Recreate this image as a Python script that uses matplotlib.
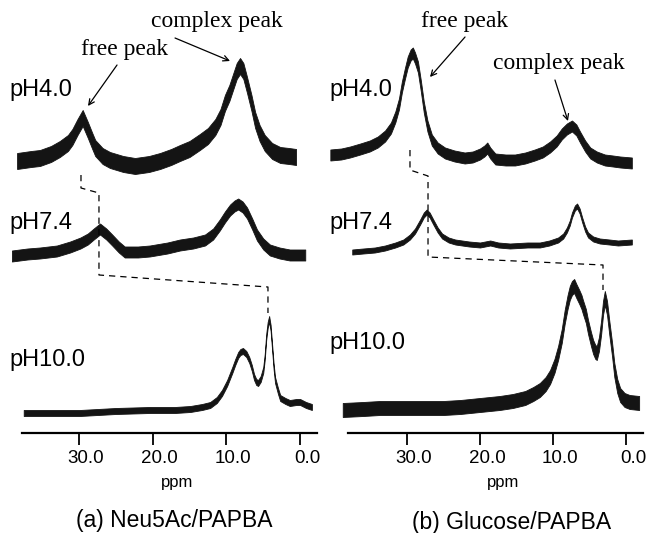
"""Stacked 11B NMR spectra of PAPBA with Neu5Ac / glucose at three pH values."""

import matplotlib
matplotlib.use("Agg")
import matplotlib.pyplot as plt
import matplotlib.transforms as mtransforms

plt.rcParams["font.family"] = ["Liberation Sans", "DejaVu Sans"]

W, H = 649, 533  # output size in pixels

# -------- Data (chemical shift in ppm, intensity in a.u. above each trace baseline)
neu_ph40_ppm = [38.4, 36.5, 35.3, 33.8, 32.6, 31.5, 30.9, 30.2, 29.5, 28.8, 28.2, 27.8,
                26.8, 25.8, 24.0, 22.4, 20.5, 19.0, 17.5, 16.3, 15.0, 13.6, 12.5, 11.5,
                10.8, 10.2, 9.6, 9.1, 8.6, 8.15, 7.7, 7.2, 6.6, 6.1, 5.5, 4.8, 3.8, 2.7,
                1.5, 0.55]
neu_ph40_int = [0, 2, 3, 7, 12, 18, 24, 34, 43, 31, 20, 13,
                5, 1, -3, -5, -3, 0, 4, 8, 12, 19, 25, 34,
                44, 58, 68, 79, 90, 95, 90, 76, 58, 41, 28, 18, 10, 6,
                5, 4]

neu_ph74_ppm = [39.1, 37.0, 35.3, 33.0, 31.2, 29.8, 28.8, 28.0, 27.15, 26.3, 25.5, 24.6,
                23.8, 22.0, 20.4, 18.0, 16.3, 14.5, 12.9, 11.8, 10.9, 10.2, 9.5, 8.9,
                8.4, 7.8, 7.2, 6.5, 5.85, 5.0, 4.1, 2.8, 1.4, -0.7]
neu_ph74_int = [-1, 1, 2, 4, 8, 12, 16, 21, 26, 21, 15, 8,
                3, 3, 4, 7, 10, 12, 15, 21, 30, 38, 45, 49,
                51, 48, 42, 31, 20, 11, 5, 2, 0, 0]

neu_ph100_ppm = [37.5, 33.0, 29.9, 25.0, 20.4, 17.0, 14.9, 13.3, 12.2, 11.3, 10.6, 9.9,
                 9.2, 8.8, 8.4, 8.1, 7.75, 7.3, 6.9, 6.55, 6.25, 5.95, 5.7, 5.35,
                 5.0, 4.8, 4.6, 4.4, 4.2, 4.0, 3.8, 3.6, 3.4, 3.0, 2.7, 2.0,
                 1.4, 0.5, 0.0, -0.8, -1.6]
neu_ph100_int = [0, 0, 0, 2, 3, 3, 4, 6, 8, 13, 20, 30,
                 43, 51, 58, 61, 62, 59, 53, 45, 36, 31, 30, 34,
                 43, 56, 76, 88, 94, 85, 66, 47, 33, 22, 15, 12,
                 10, 11, 11, 8, 6]

glc_ph40_ppm = [40.5, 39.0, 37.8, 36.4, 35.1, 34.0, 33.0, 32.2, 31.6, 31.1, 30.7, 30.3,
                29.9, 29.5, 29.2, 28.9, 28.5, 28.1, 27.7, 27.2, 26.6, 25.8, 24.8, 23.5,
                22.1, 21.0, 20.0, 19.4, 19.0, 18.6, 17.9, 16.5, 15.2, 13.8, 12.5, 11.4,
                10.4, 9.5, 8.8, 8.1, 7.4, 6.8, 6.3, 5.6, 4.9, 4.0, 2.9, 1.8, 0.8, -0.8]
glc_ph40_int = [6, 7, 9, 12, 15, 19, 25, 33, 44, 57, 74, 87,
                99, 106, 108, 103, 94, 75, 54, 35, 21, 13, 8, 5,
                3, 4, 7, 10, 13, 8, 2, 1, 1, 3, 6, 9,
                14, 20, 27, 32, 35, 31, 24, 15, 8, 4, 1, 0, -1, -2]

glc_ph74_ppm = [37.5, 36.0, 34.4, 33.0, 31.6, 30.5, 29.6, 28.9, 28.2, 27.7, 27.3, 26.9,
                26.4, 25.8, 25.2, 24.3, 23.4, 21.5, 20.0, 18.6, 17.5, 15.9, 13.5, 11.8,
                10.5, 9.3, 8.6, 8.1, 7.7, 7.4, 7.0, 6.7, 6.35, 6.0, 5.6, 5.2,
                4.5, 3.6, 2.3, 1.1, -0.8]
glc_ph74_int = [-7, -6, -5, -3, 0, 3, 8, 14, 23, 30, 33, 30,
                23, 15, 9, 5, 3, 1, 0, 2, 0, -1, 0, 0,
                2, 5, 9, 15, 22, 30, 37, 39, 34, 25, 16, 10,
                6, 4, 3, 2, 3]

glc_ph100_ppm = [38.8, 36.0, 33.7, 31.0, 28.2, 25.0, 22.7, 20.0, 17.3, 15.5, 13.8, 12.7,
                 11.8, 11.0, 10.4, 9.8, 9.3, 8.8, 8.4, 8.0, 7.7, 7.4, 7.1, 6.8,
                 6.4, 6.1, 5.9, 5.5, 5.2, 4.8, 4.5, 4.2, 4.0, 3.7, 3.4, 3.15,
                 2.9, 2.6, 2.3, 1.9, 1.6, 1.2, 0.8, 0.2, -0.5, -1.8]
glc_ph100_int = [-2, -1, 0, 0, 0, 0, 1, 3, 5, 7, 10, 14,
                 18, 24, 31, 42, 55, 72, 91, 106, 115, 120, 122, 117,
                 111, 106, 101, 92, 81, 69, 61, 56, 55, 64, 81, 100,
                 110, 100, 81, 58, 38, 22, 13, 8, 6, 5]

# free-peak shift guides (ppm, a.u.)
neu_guide_ppm = [29.73, 29.73, 27.29, 27.29, 4.36, 4.36]
neu_guide_int = [258, 245, 240, 158, 146, 120]
glc_guide_ppm = [29.59, 29.59, 27.12, 27.12, 3.15, 3.15]
glc_guide_int = [283, 263, 257, 176, 168, 143]

tick_vals = [30, 20, 10, 0]
tick_labels = ["30.0", "20.0", "10.0", "0.0"]
ph_labels = ["pH4.0", "pH7.4", "pH10.0"]


def fxy(x, y):
    """pixel position (top-left origin) -> figure fraction"""
    return x / W, 1 - y / H


def stack(ax, ppm, inten, offset, band):
    lo = [offset + v - band / 2 for v in inten]
    hi = [offset + v + band / 2 for v in inten]
    ax.fill_between(ppm, lo, hi, color="#141414", lw=0.6, edgecolor="#141414")


def setup_axis(ax, xlim, bounds):
    ax.set_xlim(*xlim)
    ax.set_ylim(0, 433)
    ax.patch.set_visible(False)
    for s in ["top", "left", "right"]:
        ax.spines[s].set_visible(False)
    ax.spines["bottom"].set_bounds(*bounds)
    ax.spines["bottom"].set_linewidth(1.6)
    ax.set_yticks([])
    ax.set_xticks(tick_vals)
    ax.set_xticklabels(tick_labels)
    ax.tick_params(axis="x", direction="out", length=8.5, width=1.3, pad=3.5, labelsize=13.5)
    shift = mtransforms.ScaledTranslation(7 / 100, 0, ax.figure.dpi_scale_trans)
    for lab in ax.get_xticklabels():
        lab.set_transform(lab.get_transform() + shift)


fig = plt.figure(figsize=(W / 100, H / 100), dpi=100)
axL = fig.add_axes([5 / W, 100 / H, 315 / W, 433 / H])
axR = fig.add_axes([328 / W, 100 / H, 318 / W, 433 / H])

setup_axis(axL, (40.04, -2.70), (37.73, -2.29))
setup_axis(axR, (40.82, -2.74), (38.08, -2.33))

# Neu5Ac panel
stack(axL, neu_ph40_ppm, neu_ph40_int, 272, 16)
stack(axL, neu_ph74_ppm, neu_ph74_int, 178, 11)
stack(axL, neu_ph100_ppm, neu_ph100_int, 20, 6)
axL.plot(neu_guide_ppm, neu_guide_int, color="black", lw=0.9, ls=(0, (5, 4)))

# Glucose panel
stack(axR, glc_ph40_ppm, glc_ph40_int, 272, 11)
stack(axR, glc_ph74_ppm, glc_ph74_int, 188, 5)
stack(axR, glc_ph100_ppm, glc_ph100_int, 25, 14)
axR.plot(glc_guide_ppm, glc_guide_int, color="black", lw=0.9, ls=(0, (5, 4)))

# peak annotations
serif = dict(family="Liberation Serif", fontsize=17, ha="center", va="center")
arrow = dict(arrowstyle="->", lw=0.9, color="black", shrinkA=0, shrinkB=0)
axL.text(23.76, 383, "free peak", **serif)
axL.annotate("", xy=(28.78, 327), xytext=(24.84, 368), arrowprops=arrow)
axL.text(11.28, 411, "complex peak", **serif)
axL.annotate("", xy=(9.51, 372), xytext=(16.97, 395), arrowprops=arrow)
axR.text(22.05, 411, "free peak", **serif)
axR.annotate("", xy=(26.85, 356), xytext=(22.05, 396), arrowprops=arrow)
axR.text(9.18, 370, "complex peak", **serif)
axR.annotate("", xy=(7.95, 312), xytext=(9.73, 353), arrowprops=arrow)

# pH labels
for lab, y in zip(ph_labels, [90, 223, 360]):
    fig.text(*fxy(9, y), lab, fontsize=17, ha="left", va="center")
for lab, y in zip(ph_labels, [90, 223, 343]):
    fig.text(*fxy(329, y), lab, fontsize=17, ha="left", va="center")

fig.text(*fxy(177, 483), "ppm", fontsize=12, ha="center", va="center")
fig.text(*fxy(503, 483), "ppm", fontsize=12, ha="center", va="center")
fig.text(*fxy(174, 520), "(a) Neu5Ac/PAPBA", fontsize=16.5, ha="center", va="center")
fig.text(*fxy(512, 522), "(b) Glucose/PAPBA", fontsize=16.5, ha="center", va="center")

fig.savefig("out.png", dpi=100)
